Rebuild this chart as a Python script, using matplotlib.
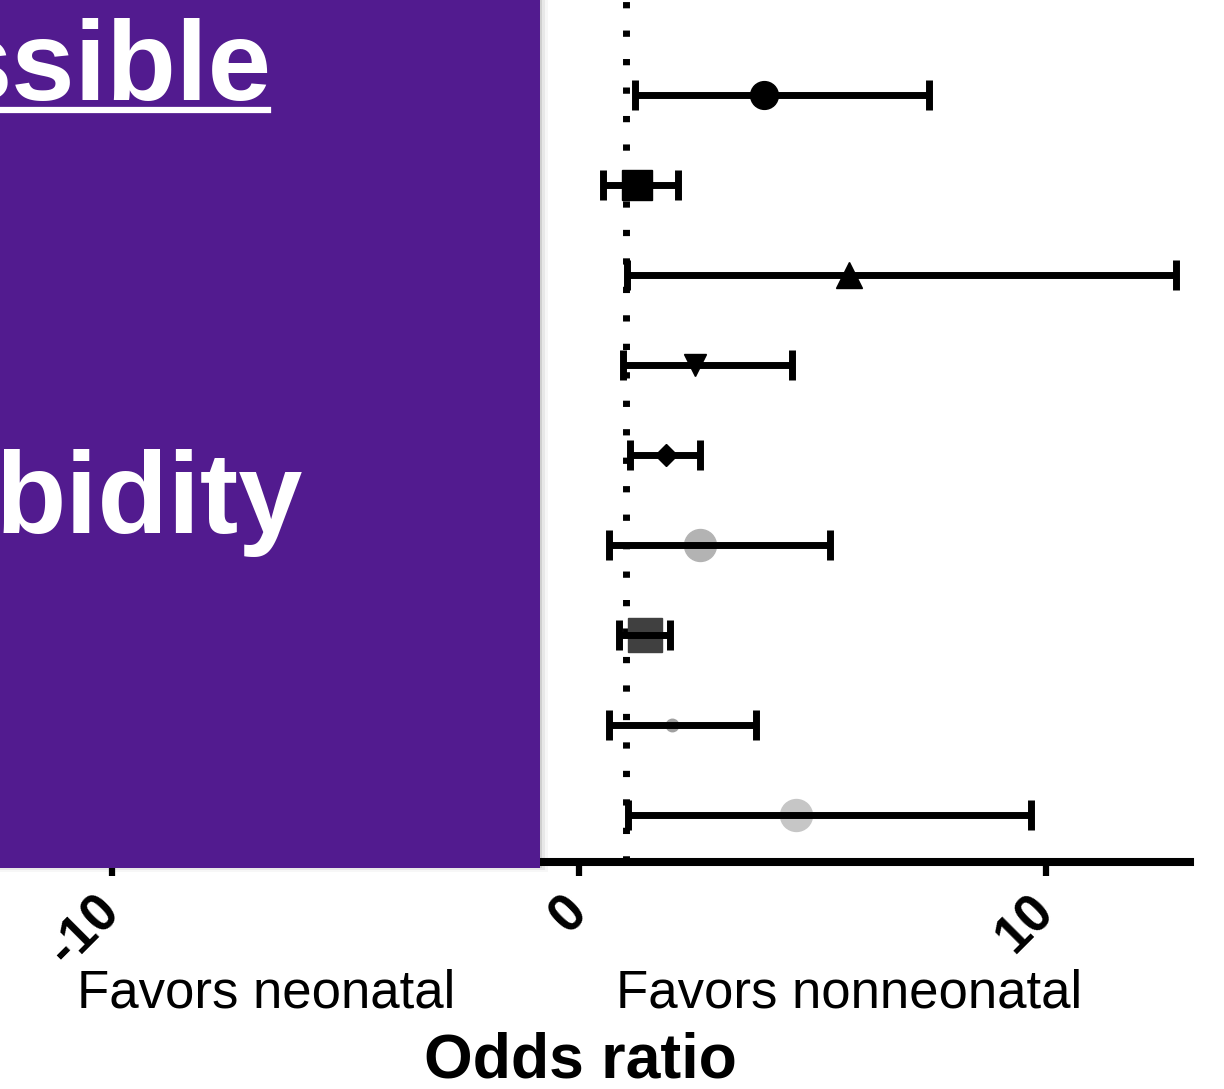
import numpy as np
import matplotlib.pyplot as plt
from matplotlib.patches import Rectangle

plt.rcParams['font.family'] = ['Liberation Sans', 'DejaVu Sans']

# odds ratios with 95% CI, top row first
odds = [3.96, 1.24, 5.78, 2.48, 1.86, 2.59, 1.41, 1.99, 4.65]
ci_low = [1.20, 0.51, 1.03, 0.94, 1.09, 0.64, 0.86, 0.64, 1.05]
ci_high = [7.49, 2.12, 12.78, 4.56, 2.59, 5.37, 1.95, 3.79, 9.68]
markers = ['o', 's', '^', 'v', 'D', 'o', 's', 'o', 'o']
marker_colors = ['black', 'black', 'black', 'black', 'black',
                 '#b3b3b3', '#404040', '#a0a0a0', '#c6c6c6']
marker_sizes = [20, 22, 19, 16, 11, 23, 24, 9, 23]

xticks = [-10, 0, 10]
side_labels = ['Favors neonatal', 'Favors nonneonatal']

W, H = 1224, 1089
fig = plt.figure(figsize=(W / 100, H / 100), dpi=100)

# axes box in pixels: left 0, right 1190, top 0, spine at 862
ax = fig.add_axes([0, 1 - 862 / H, 1190 / W, 862 / H])
ax.set_xlim(-12.40, 13.08)
ax.set_ylim(8.52, -1.056)

rows = np.arange(len(odds))
for i in rows:
    gray = marker_colors[i] != 'black'
    ax.plot(odds[i], i, marker=markers[i], color=marker_colors[i],
            markersize=marker_sizes[i], linestyle='none',
            zorder=2 if gray else 4)
    ax.errorbar(odds[i], i,
                xerr=[[odds[i] - ci_low[i]], [ci_high[i] - odds[i]]],
                fmt='none', ecolor='black', elinewidth=5,
                capsize=11, capthick=5, zorder=3)

# line of no effect
ax.axvline(1, color='black', linewidth=5, linestyle=(0, (0.9, 3.2)),
           zorder=1)

for s in ['left', 'right', 'top']:
    ax.spines[s].set_visible(False)
ax.spines['bottom'].set_linewidth(5.8)
ax.set_yticks([])
ax.set_xticks(xticks)
ax.set_xticklabels([str(t) for t in xticks], rotation=45, ha='right',
                   va='center', rotation_mode='anchor', fontsize=38,
                   fontweight='bold')
ax.tick_params(axis='x', length=10, width=4.5, pad=20)

fig.text(266 / W, 1 - 993 / H, side_labels[0], fontsize=38,
         ha='center', va='center')
fig.text(849 / W, 1 - 993 / H, side_labels[1], fontsize=38,
         ha='center', va='center')
fig.text(580 / W, 1 - 1078 / H, 'Odds ratio', fontsize=45,
         fontweight='bold', ha='center', va='baseline')

# purple title panel on the left, with a soft shadow
for k, a in enumerate([0.10, 0.06, 0.03]):
    fig.patches.append(Rectangle((0, 1 - (868 + 2 * k) / H),
                                 (542 + 3 * k) / W, (868 + 2 * k) / H,
                                 transform=fig.transFigure,
                                 facecolor='black', alpha=a,
                                 edgecolor='none', zorder=9))
fig.patches.append(Rectangle((0, 1 - 868 / H), 540 / W, 868 / H,
                             transform=fig.transFigure,
                             facecolor='#521b8f', edgecolor='none',
                             zorder=10))
fig.text(-52 / W, 1 - 100 / H, 'ssible', color='white', fontsize=82,
         fontweight='bold', ha='left', va='baseline', zorder=11)
fig.add_artist(plt.Line2D([0, 268 / W], [1 - 110 / H, 1 - 110 / H],
                          transform=fig.transFigure, color='white',
                          linewidth=4.5, zorder=11))
fig.text(-5 / W, 1 - 533 / H, 'bidity', color='white', fontsize=83,
         fontweight='bold', ha='left', va='baseline', zorder=11)

fig.savefig('out.png', dpi=100)
